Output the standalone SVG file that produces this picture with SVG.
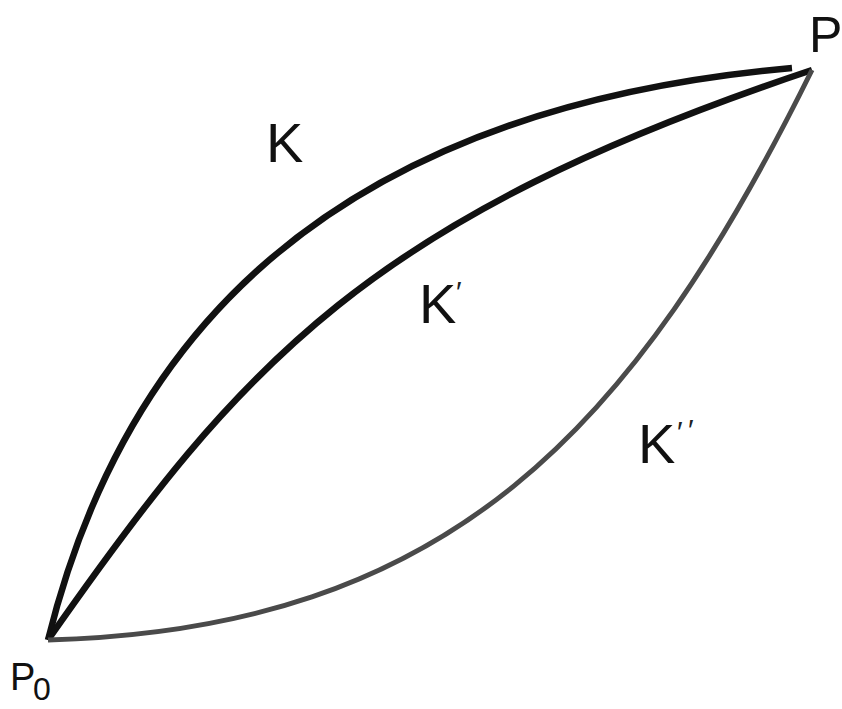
<svg xmlns="http://www.w3.org/2000/svg" width="842" height="709" viewBox="0 0 842 709">
  <style>
    .lbl { font-family: "Liberation Sans", Arial, sans-serif; fill: #111; }
    .prime { font-family: "Liberation Sans", Arial, sans-serif; fill: #222; font-size: 30px; }
    .curve { fill: none; stroke-linecap: butt; stroke-linejoin: round; }
    .dark { stroke: #111; stroke-width: 6.5; }
    .gray { stroke: #4a4a4a; stroke-width: 5; }
  </style>
  <rect width="842" height="709" fill="#ffffff"/>
  <g id="connectors">
    <path id="curve-K" class="curve dark" d="M48,640 C115,370 295,112 792,68"/>
    <path id="curve-K1" class="curve dark" d="M48,640 C243,361 370,218 812,70"/>
    <path id="curve-K2" class="curve gray" d="M48,640 C450,629 634,430 812,70"/>
  </g>
  <g id="node-P0">
    <text class="lbl" x="10" y="690" font-size="38">P</text>
    <text class="lbl" x="33" y="700" font-size="32">0</text>
  </g>
  <g id="node-P">
    <text class="lbl" x="809" y="52" font-size="50">P</text>
  </g>
  <g id="label-K">
    <text class="lbl" x="266" y="162" font-size="56">K</text>
  </g>
  <g id="label-K1">
    <text class="lbl" x="419" y="323" font-size="56">K</text>
    <text class="prime" x="456" y="302">′</text>
  </g>
  <g id="label-K2">
    <text class="lbl" x="638" y="463" font-size="56">K</text>
    <text class="prime" x="677" y="442">′</text>
    <text class="prime" x="688" y="440">′</text>
  </g>
</svg>
